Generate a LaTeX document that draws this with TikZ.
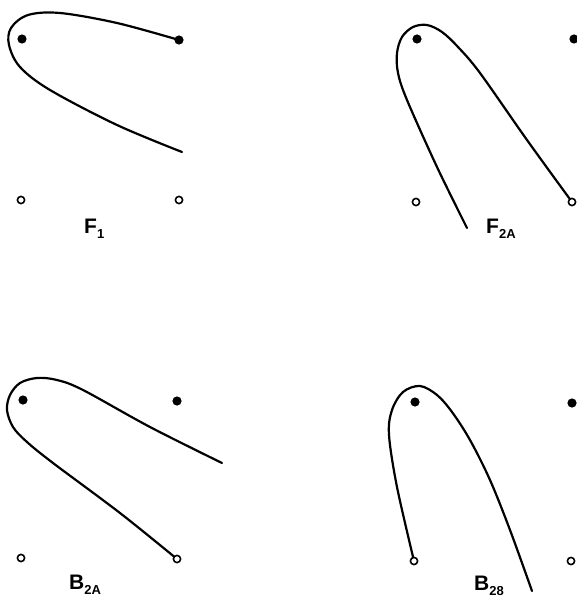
\documentclass[tikz,border=0pt]{standalone}
\usepackage{fontspec}
\setmainfont{Liberation Sans}

% Beschriftung mit Index
\newcommand{\fallname}[2]{\textbf{\fontsize{21}{21}\selectfont #1}\raisebox{-5.5pt}{\textbf{\fontsize{13}{13}\selectfont #2}}}

\begin{document}
\begin{tikzpicture}[x=1pt,y=-1pt,
	voll/.style={fill=black},
	hohl/.style={draw=black,line width=1.6pt,fill=white},
	bahn/.style={line width=2.2pt,line cap=round},
	fall/.style={anchor=base west,inner sep=0pt}]

	% Rahmen
	\useasboundingbox (0,0) rectangle (577,599);

	% Punkte (gefuellt oben, offen unten)
	\coordinate (F1a) at (22,39);   \coordinate (F1b) at (179,40);
	\coordinate (F1c) at (21,200);  \coordinate (F1d) at (179,200);
	\coordinate (F2a) at (417,39);  \coordinate (F2b) at (574,39);
	\coordinate (F2c) at (416,202); \coordinate (F2d) at (572,202);
	\coordinate (B2a) at (23,400);  \coordinate (B2b) at (177,401);
	\coordinate (B2c) at (21,558);  \coordinate (B2d) at (177,559);
	\coordinate (B3a) at (415,402); \coordinate (B3b) at (572,403);
	\coordinate (B3c) at (414,561); \coordinate (B3d) at (571,561);

	% Bahnen
	\draw[bahn] plot[smooth,tension=0.55] coordinates {(F1b) (117,23) (60,13) (28,15) (11,28) (9,45) (20,67) (50,90) (117,125) (182,152)};
	\draw[bahn] plot[smooth,tension=0.55] coordinates {(467,228) (437,167) (407,100) (398,73) (397,53) (402,37) (413,27) (427,25) (442,32) (458,47) (480,73) (527,140) (F2d)};
	\draw[bahn] plot[smooth,tension=0.55] coordinates {(222,463) (150,427) (83,390) (57,380) (37,378) (20,383) (10,395) (7,410) (13,427) (27,442) (53,463) (120,513) (B2d)};
	\draw[bahn] plot[smooth,tension=0.55] coordinates {(B3c) (397,487) (389,435) (392,410) (403,392) (420,386) (437,395) (452,412) (470,440) (490,480) (510,530) (532,591)};

	% gefuellte Punkte
	\foreach \p in {F1a,F1b,F2a,F2b,B2a,B2b,B3a,B3b}
		\fill[voll] (\p) circle (4.6pt);

	% offene Punkte
	\foreach \p in {F1c,F1d,F2c,F2d,B2c,B2d,B3c,B3d}
		\draw[hohl] (\p) circle (3.6pt);

	% Beschriftungen
	\node[fall] (lF1) at (84,233) {\fallname{F}{1}};
	\node[fall] (lF2) at (486,233) {\fallname{F}{2A}};
	\node[fall] (lB2) at (69,589) {\fallname{B}{2A}};
	\node[fall] (lB3) at (474,590) {\fallname{B}{28}};

\end{tikzpicture}
\end{document}
